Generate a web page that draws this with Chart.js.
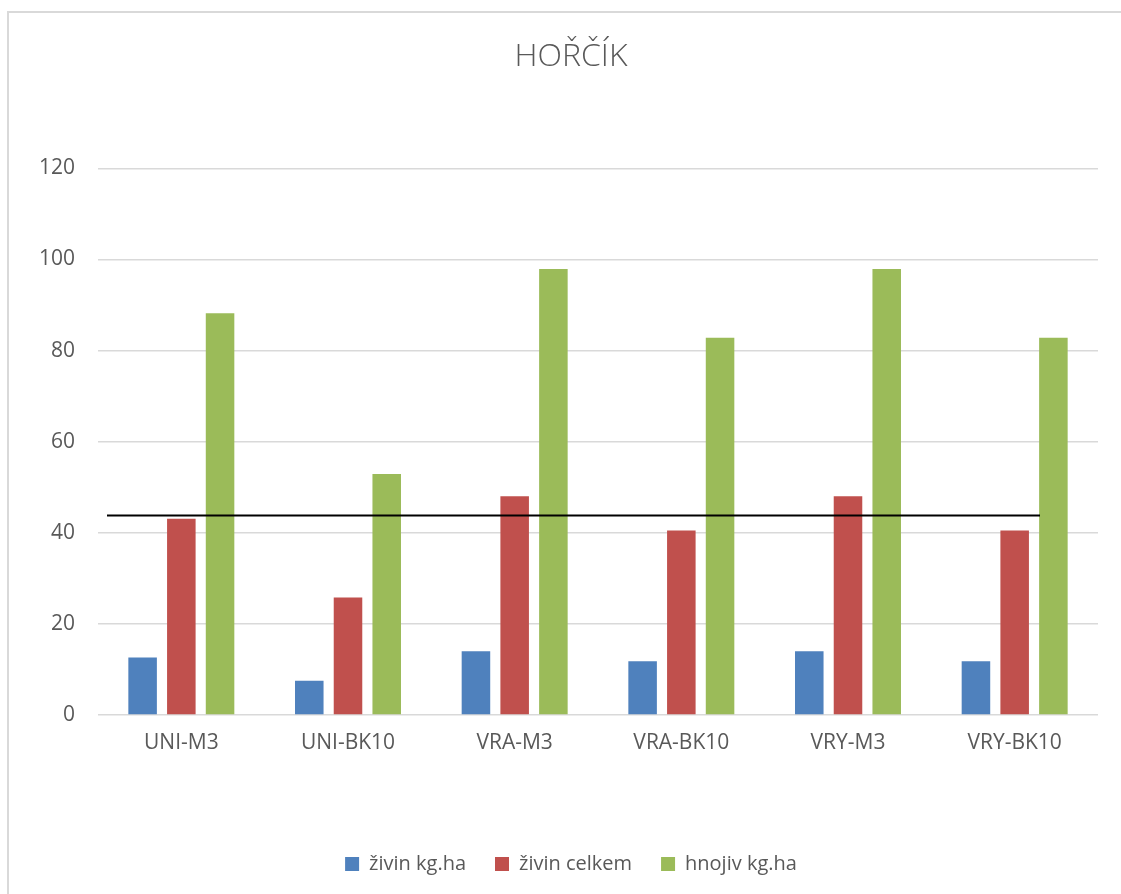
<!DOCTYPE html>
<html>
<head>
<meta charset="utf-8">
<script src="https://cdn.jsdelivr.net/npm/chart.js@4/dist/chart.umd.min.js"></script>
<style>
  html, body { margin: 0; padding: 0; background: #ffffff; }
  #wrap { position: absolute; left: 0; top: 0; width: 1121px; height: 894px; }
</style>
</head>
<body>
<div id="wrap"><canvas id="chart"></canvas></div>
<script>
// Kategorie (varianty hnojení)
const categories = ['UNI-M3', 'UNI-BK10', 'VRA-M3', 'VRA-BK10', 'VRY-M3', 'VRY-BK10'];

// Hořčík – hodnoty jednotlivých řad
const zivinKgHa   = [12.6, 7.5, 14.0, 11.8, 14.0, 11.8];
const zivinCelkem = [43.1, 25.8, 48.0, 40.5, 48.0, 40.5];
const hnojivKgHa  = [88.2, 52.9, 97.9, 82.8, 97.9, 82.8];

// Vodorovná referenční čára (hodnota a rozsah v jednotkách kategorií)
const limitValue = 43.8;
const limitFrom = 0.054;
const limitTo = 5.652;

// Osa Y
const yTicks = [0, 20, 40, 60, 80, 100, 120];

const seriesNames = ['živin kg.ha', 'živin celkem', 'hnojiv kg.ha'];
const seriesColors = ['#4f81bd', '#c0504d', '#9bbb59'];

const FONT = "'Open Sans', 'Liberation Sans', sans-serif";
const TEXT = '#595959';
const GRID = '#d9d9d9';

// Rámeček grafu
const frame = {
  id: 'frame',
  beforeDraw(chart) {
    const c = chart.ctx;
    c.save();
    c.fillStyle = '#ffffff';
    c.fillRect(0, 0, chart.width, chart.height);
    c.strokeStyle = GRID;
    c.lineWidth = 2;
    c.beginPath();
    c.moveTo(8, chart.height + 2);
    c.lineTo(8, 12);
    c.lineTo(chart.width + 2, 12);
    c.stroke();
    c.restore();
  }
};

// Nadpis a legenda se centrují na střed rámečku
const centerBlocks = {
  id: 'centerBlocks',
  afterLayout(chart) {
    if (chart.titleBlock) chart.titleBlock.left = 44;
    if (chart.legend) chart.legend.left = 44;
  }
};

// Referenční čára přes sloupce, umístěná přes škály grafu
const limitLine = {
  id: 'limitLine',
  afterDatasetsDraw(chart) {
    const x = chart.scales.x, y = chart.scales.y;
    const n = categories.length;
    const x0 = x.left + (limitFrom / n) * x.width;
    const x1 = x.left + (limitTo / n) * x.width;
    const py = y.getPixelForValue(limitValue);
    const c = chart.ctx;
    c.save();
    c.strokeStyle = '#000000';
    c.lineWidth = 2;
    c.beginPath();
    c.moveTo(x0, py);
    c.lineTo(x1, py);
    c.stroke();
    c.restore();
  }
};

new Chart(document.getElementById('chart'), {
  type: 'bar',
  data: {
    labels: categories,
    datasets: seriesNames.map((name, i) => ({
      label: name,
      data: [zivinKgHa, zivinCelkem, hnojivKgHa][i],
      backgroundColor: seriesColors[i],
      categoryPercentage: 0.697,
      barPercentage: 0.737
    }))
  },
  options: {
    responsive: true,
    maintainAspectRatio: false,
    animation: false,
    devicePixelRatio: 1,
    layout: { padding: { left: 0, right: 23, top: 0, bottom: 10 } },
    plugins: {
      title: {
        display: true,
        text: 'HOŘČÍK',
        color: TEXT,
        font: { family: FONT, size: 32, weight: '300', lineHeight: 1.2 },
        padding: { top: 38, bottom: 92 }
      },
      legend: {
        position: 'bottom',
        labels: {
          color: TEXT,
          font: { family: FONT, size: 20 },
          boxWidth: 14,
          boxHeight: 14,
          padding: 29
        }
      },
      tooltip: { enabled: false }
    },
    scales: {
      x: {
        type: 'category',
        offset: true,
        grid: { display: false, drawTicks: false },
        border: { display: false },
        ticks: { color: TEXT, font: { family: FONT, size: 21 }, padding: 15, maxRotation: 0 },
        afterFit: (s) => { s.height = 110; }
      },
      y: {
        min: 0,
        max: 120,
        grid: { color: GRID, lineWidth: 1.5, drawTicks: false },
        border: { display: false },
        afterBuildTicks: (s) => { s.ticks = yTicks.map(v => ({ value: v })); },
        ticks: { color: TEXT, font: { family: FONT, size: 21 }, padding: 23 },
        afterFit: (s) => { s.width = 98; }
      }
    }
  },
  plugins: [frame, centerBlocks, limitLine]
});
</script>
</body>
</html>
